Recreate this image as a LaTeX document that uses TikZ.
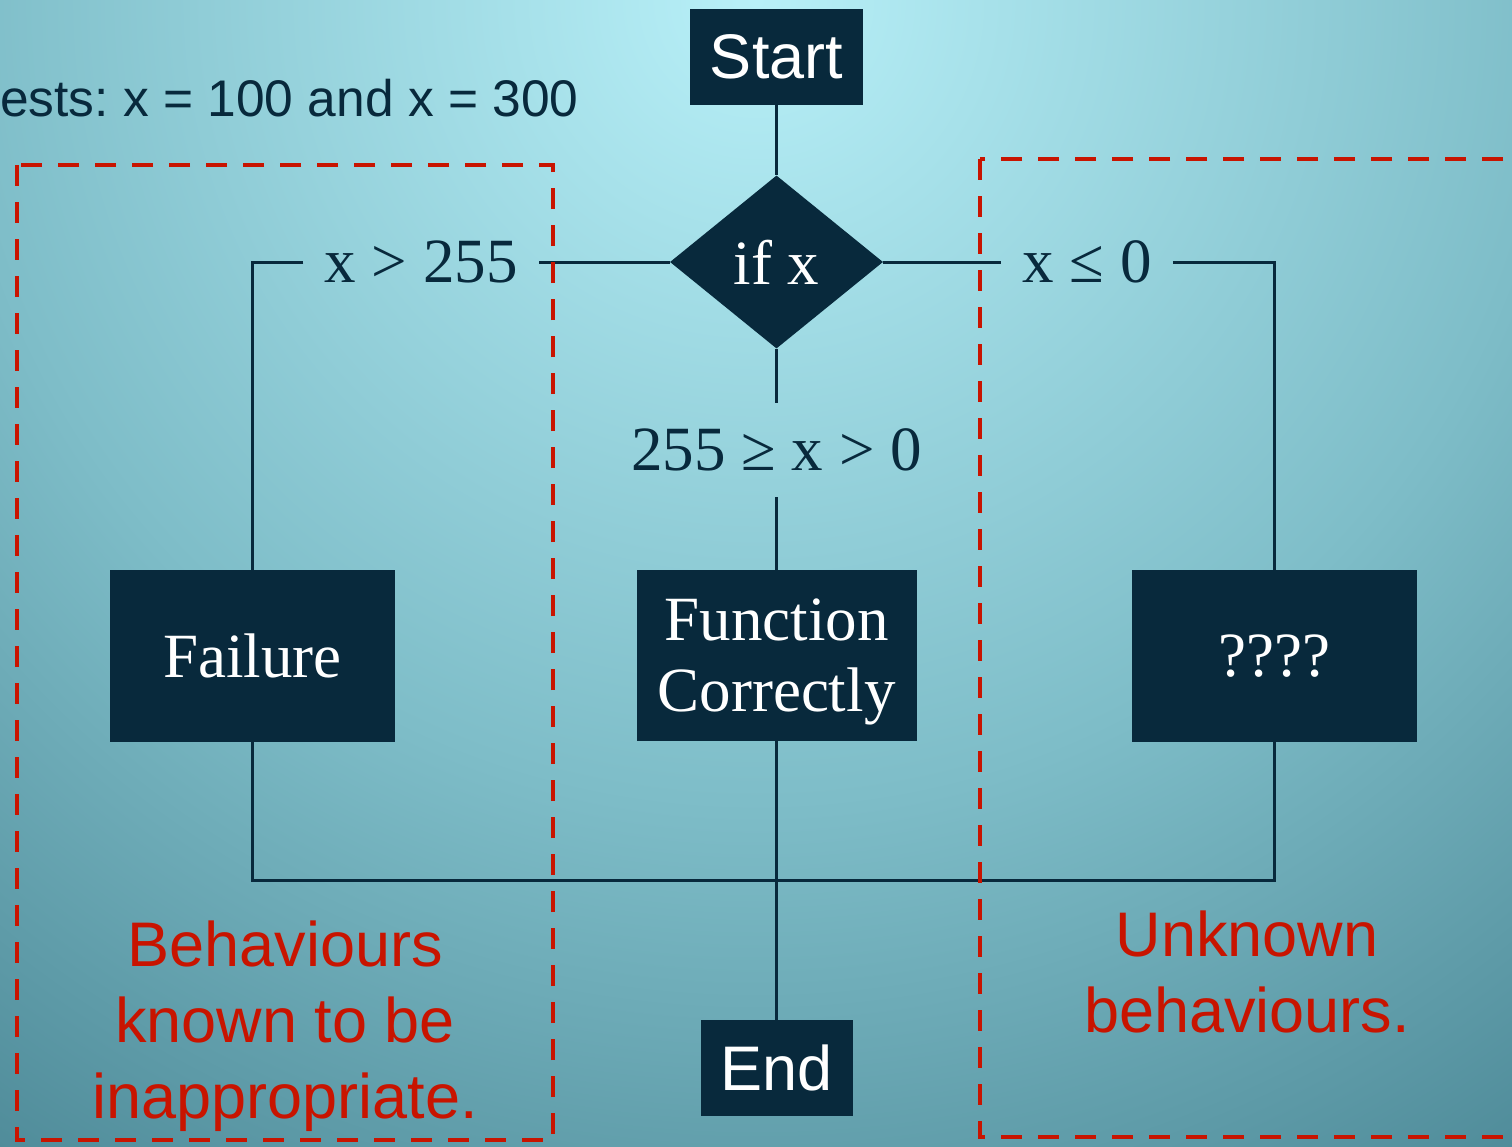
\documentclass[tikz,border=0pt]{standalone}
\usepackage{fontspec}
\setmainfont{Liberation Serif}
\setsansfont{Liberation Sans}
\usetikzlibrary{shapes.geometric}
\frenchspacing

\definecolor{navy}{HTML}{08293C}
\definecolor{warnred}{HTML}{C81400}
\definecolor{bgtop}{HTML}{B8F0F8}
\definecolor{bgmid}{HTML}{7EBDC8}
\definecolor{bgbot}{HTML}{4E8A98}
\pgfdeclareradialshading{slideglow}{\pgfpoint{0bp}{0bp}}%
  {color(0bp)=(bgtop); color(14.3bp)=(bgmid); color(25bp)=(bgbot); color(50bp)=(bgbot)}

\newcommand{\slidefont}{\fontsize{63}{76}\selectfont}

\begin{document}
\begin{tikzpicture}
[x=1pt, y=-1pt, every node/.style={inner sep=0pt},
 box/.style={rectangle, fill=navy, text=white, align=center, font=\slidefont},
 cond/.style={text=navy, font=\slidefont, inner xsep=21pt, inner ysep=26pt},
 flow/.style={draw=navy, line width=3pt},
 zone/.style={draw=warnred, line width=4.5pt, dash pattern=on 21pt off 16pt},
 note/.style={text=warnred, align=center, font=\sffamily\slidefont}]
\useasboundingbox (0,0) rectangle (1512,1146);
\clip (0,0) rectangle (1512,1146);
\shade[shading=slideglow] (756,0) circle (1400pt);

% title line, cut at the left edge
\node (tests) [anchor=base west, text=navy, font=\sffamily\fontsize{51.5}{62}\selectfont] at (0, 116) {ests: x = 100 and x = 300};

% flow chart
\node (start) [box, font=\sffamily\slidefont, minimum width=173pt, minimum height=96pt] at (776.5, 57) {Start};
\node (test) [diamond, fill=navy, text=white, font=\slidefont, minimum width=213pt, minimum height=173pt] at (776.5, 262) {if x};
\node (gtlbl) [cond] at (421, 262) {x > 255};
\node (lelbl) [cond] at (1087, 262) {x ≤ 0};
\node (midlbl) [cond] at (776.5, 450) {255 ≥ x > 0};
\node (fail) [box, minimum width=285pt, minimum height=172pt] at (252.5, 656) {Failure};
\node (func) [box, font=\fontsize{63}{71}\selectfont, text depth=0pt, minimum width=280pt, minimum height=171pt] at (776.5, 655.5) {Function\\Correctly};
\node (unk) [box, minimum width=285pt, minimum height=172pt] at (1274.5, 656) {????};
\node (end) [box, font=\sffamily\slidefont, minimum width=152pt, minimum height=96pt] at (776.5, 1068) {End};
\coordinate (join) at (776.5, 880);

\draw [flow] (start) -- (test);
\draw [flow] (test.west) -- (gtlbl.east);
\draw [flow] (gtlbl.west) -| (fail.north);
\draw [flow] (test.east) -- (lelbl.west);
\draw [flow] (lelbl.east) -| (unk.north);
\draw [flow] (test.south) -- (midlbl.north);
\draw [flow] (midlbl.south) -- (func.north);
\draw [flow] (fail.south) |- (join) -| (unk.south);
\draw [flow] (func.south) -- (end.north);

% behaviour zones
\draw [zone] (17, 165) rectangle (553, 1140);
\draw [zone] (980, 159) rectangle (1540, 1137);
\node (badnote) [note] at (285, 1026) {Behaviours\\known to be\\inappropriate.};
\node (unknote) [note] at (1247, 972) {Unknown\\behaviours.};
\end{tikzpicture}
\end{document}
